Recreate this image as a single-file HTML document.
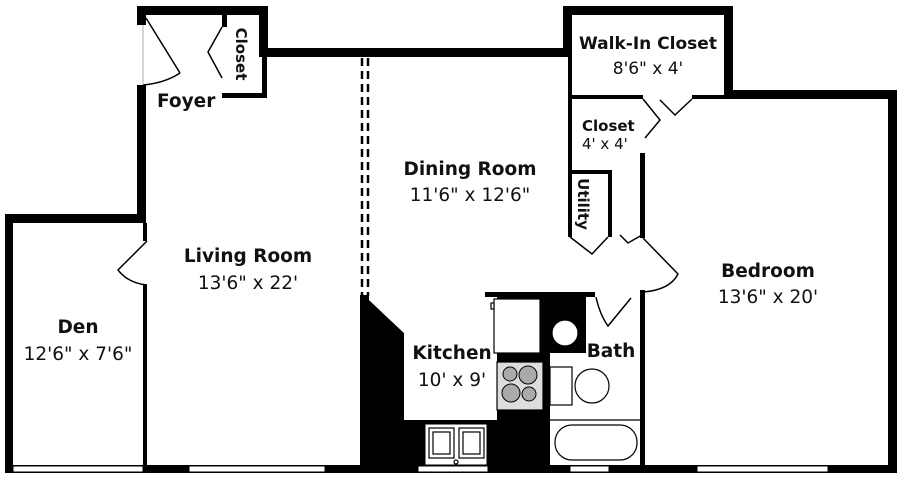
<!DOCTYPE html>
<html><head><meta charset="utf-8"><style>
html,body{margin:0;padding:0;background:#fff;}
svg{display:block;}
text{font-family:"DejaVu Sans","Liberation Sans",sans-serif;fill:#111;}
.b{font-weight:bold;font-size:18.5px;}
.n{font-size:18.5px;}
.m{font-size:17px;}
.s{font-size:15px;}
</style></head><body>
<svg width="900" height="482" viewBox="0 0 900 482" xmlns="http://www.w3.org/2000/svg">
<rect width="900" height="482" fill="#fff"/>
<g fill="#000">
<rect x="137" y="6" width="131" height="9"/>
<rect x="137" y="6" width="9" height="19"/>
<rect x="222" y="15" width="5" height="12"/>
<rect x="259" y="6" width="9" height="45"/>
<rect x="262" y="48" width="5" height="50"/>
<rect x="222" y="93" width="45" height="5"/>
<rect x="259" y="48" width="313" height="9"/>
<rect x="137" y="85" width="9" height="138"/>
<rect x="143" y="223" width="4" height="18"/>
<rect x="143" y="285" width="4" height="185"/>
<rect x="5" y="214" width="141" height="9"/>
<rect x="5" y="214" width="8" height="259"/>
<rect x="5" y="465" width="892" height="8"/>
<rect x="563" y="6" width="170" height="9"/>
<rect x="563" y="6" width="9" height="48"/>
<rect x="568" y="54" width="4" height="183"/>
<rect x="724" y="6" width="9" height="93"/>
<rect x="572" y="95" width="71" height="4"/>
<rect x="692" y="95" width="35" height="4"/>
<rect x="724" y="90" width="173" height="9"/>
<rect x="888" y="90" width="9" height="383"/>
<rect x="640" y="153" width="5" height="85"/>
<rect x="640" y="290" width="5" height="180"/>
<rect x="568" y="170" width="44" height="4"/>
<rect x="608" y="170" width="4" height="67"/>
<polygon points="360,295 369,295 369,300 404,333 404,420 497,420 497,465 360,465"/>
<rect x="485" y="292" width="110" height="5"/>
<rect x="497" y="296" width="53" height="170"/>
<rect x="540" y="296" width="46" height="57"/>
</g>
<g fill="#fff" stroke="#000" stroke-width="1">
<rect x="13" y="466" width="130" height="6"/>
<rect x="189" y="466" width="136" height="6"/>
<rect x="418" y="466" width="70" height="6"/>
<rect x="570" y="466" width="39" height="6"/>
<rect x="697" y="466" width="131" height="6"/>
</g>
<rect x="404" y="296" width="81" height="124" fill="#fff"/>
<polygon points="369,300 404,300 404,333" fill="#fff"/>
<rect x="485" y="297" width="12" height="60" fill="#fff"/>
<rect x="550" y="353" width="90" height="112" fill="#fff"/>
<rect x="586" y="297" width="54" height="56" fill="#fff"/>
<rect x="425" y="424" width="62" height="41" fill="#fff" stroke="#000"/>
<g fill="#fff" stroke="#000" stroke-width="1.2">
<rect x="494" y="299" width="46" height="54"/>
<rect x="491" y="303" width="3" height="6"/>
<rect x="497" y="362" width="46" height="48" fill="#ddd"/>
<rect x="429" y="428" width="25" height="30"/><rect x="433" y="432" width="17" height="22"/>
<rect x="459" y="428" width="25" height="30"/><rect x="463" y="432" width="17" height="22"/>
<circle cx="456" cy="462" r="2"/>
<circle cx="565" cy="333" r="13"/>
<rect x="550" y="367" width="22" height="38"/>
<circle cx="592" cy="386" r="17"/>
<line x1="550" y1="420" x2="640" y2="420"/>
<rect x="555" y="425" width="82" height="35" rx="17"/>
</g>
<g fill="#aaa" stroke="#000">
<circle cx="510" cy="374" r="7"/><circle cx="528" cy="375" r="9"/>
<circle cx="511" cy="393" r="9"/><circle cx="529" cy="394" r="7"/>
</g>
<g stroke="#000" stroke-width="2.5" stroke-dasharray="8,5">
<line x1="362" y1="58" x2="362" y2="296"/><line x1="368" y1="58" x2="368" y2="296"/>
</g>
<g fill="none" stroke="#000" stroke-width="1.5">
<line x1="146" y1="18" x2="180" y2="73"/><path d="M180,73 Q165,83 143,85"/>
<line x1="143" y1="25" x2="143" y2="85" stroke="#999" stroke-width="0.8"/>
<polyline points="222,27 208,52 222,78"/>
<path d="M147,241 L118,270 Q128,283 147,285"/>
<polyline points="643,99 660,120 645,138"/>
<polyline points="660,100 675,115 692,99"/>
<polyline points="570,237 592,254 608,237"/>
<polyline points="620,235 628,243 642,235"/>
<path d="M643,238 L678,274 Q670,290 643,292"/>
<path d="M596,297 Q600,315 608,326 L631,298"/>
</g>
<text class="b s" transform="translate(236,54) rotate(90)" text-anchor="middle">Closet</text>
<text class="b" x="157" y="107">Foyer</text>
<text class="b m" x="648" y="49" text-anchor="middle">Walk-In Closet</text>
<text class="n m" x="648" y="74" text-anchor="middle">8'6" x 4'</text>
<text class="b s" x="582" y="131">Closet</text>
<text class="n s" x="582" y="149">4' x 4'</text>
<text class="b s" transform="translate(578,204) rotate(90)" text-anchor="middle">Utility</text>
<text class="b" x="470" y="175" text-anchor="middle">Dining Room</text>
<text class="n" x="470" y="201" text-anchor="middle">11'6" x 12'6"</text>
<text class="b" x="248" y="262" text-anchor="middle">Living Room</text>
<text class="n" x="248" y="289" text-anchor="middle">13'6" x 22'</text>
<text class="b" x="768" y="277" text-anchor="middle">Bedroom</text>
<text class="n" x="768" y="303" text-anchor="middle">13'6" x 20'</text>
<text class="b" x="78" y="333" text-anchor="middle">Den</text>
<text class="n" x="78" y="360" text-anchor="middle">12'6" x 7'6"</text>
<text class="b" x="452" y="359" text-anchor="middle">Kitchen</text>
<text class="n" x="452" y="386" text-anchor="middle">10' x 9'</text>
<text class="b" x="611" y="357" text-anchor="middle">Bath</text>
</svg>
</body></html>
